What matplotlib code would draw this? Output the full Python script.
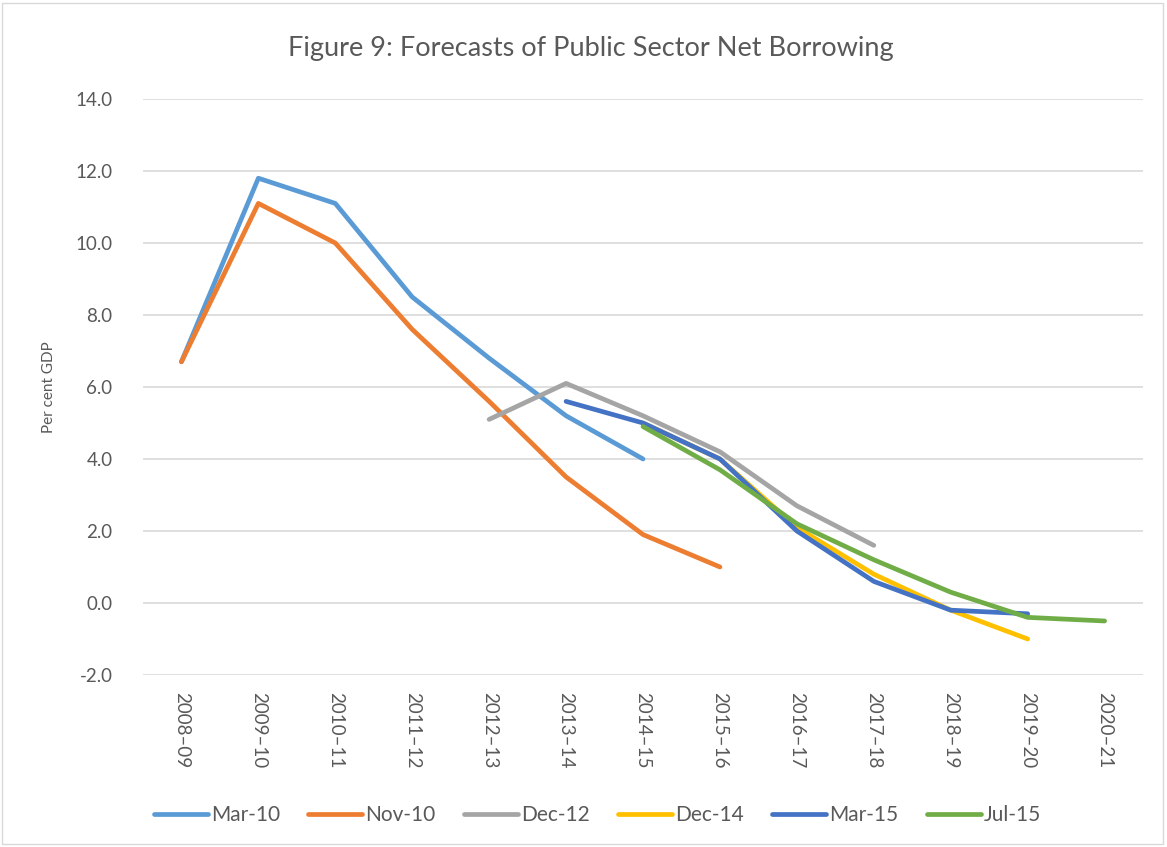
import matplotlib
matplotlib.use('Agg')
import matplotlib.pyplot as plt
import numpy as np

# data
years = ['2008–09', '2009–10', '2010–11', '2011–12', '2012–13', '2013–14', '2014–15',
         '2015–16', '2016–17', '2017–18', '2018–19', '2019–20', '2020–21']

mar10 = [6.7, 11.8, 11.1, 8.5, 6.8, 5.2, 4.0]
nov10 = [6.7, 11.1, 10.0, 7.6, 5.6, 3.5, 1.9, 1.0]
dec12 = [5.1, 6.1, 5.2, 4.2, 2.7, 1.6]
dec14 = [5.0, 4.0, 2.1, 0.8, -0.2, -1.0]
mar15 = [5.6, 5.0, 4.0, 2.0, 0.6, -0.2, -0.3]
jul15 = [4.9, 3.7, 2.2, 1.2, 0.3, -0.4, -0.5]

# (label, values, first year index, colour)
series = [
    ('Mar-10', mar10, 0, '#5B9BD5'),
    ('Nov-10', nov10, 0, '#ED7D31'),
    ('Dec-12', dec12, 4, '#A5A5A5'),
    ('Dec-14', dec14, 6, '#FFC000'),
    ('Mar-15', mar15, 5, '#4472C4'),
    ('Jul-15', jul15, 6, '#70AD47'),
]

TEXT = '#595959'
GRID = '#D9D9D9'
plt.rcParams['font.family'] = ['Lato', 'DejaVu Sans']

fig = plt.figure(figsize=(11.67, 8.47), dpi=100)
ax = fig.add_axes([0.1225, 0.2031, 0.857, 0.68])

for label, vals, start, col in series:
    xs = np.arange(start, start + len(vals))
    ax.plot(xs, vals, color=col, lw=3.4, label=label, solid_capstyle='round',
            solid_joinstyle='round')

ax.set_xlim(-0.5, len(years) - 0.5)
ax.set_ylim(-2, 14)
ax.set_yticks(np.arange(-2, 14.1, 2))
ax.set_yticklabels(['%.1f' % v for v in np.arange(-2, 14.1, 2)])
ax.set_xticks(range(len(years)))
ax.set_xticklabels(years, rotation=-90)
ax.tick_params(axis='both', length=0, colors=TEXT, labelsize=13.5)
ax.tick_params(axis='y', pad=22)
ax.tick_params(axis='x', pad=12)
ax.grid(axis='y', color=GRID, lw=1.2)
ax.set_axisbelow(True)
for s in ax.spines.values():
    s.set_visible(False)

ax.set_ylabel('Per cent GDP', color=TEXT, fontsize=11, labelpad=14)
fig.text(0.506, 0.943, 'Figure 9: Forecasts of Public Sector Net Borrowing',
         ha='center', va='center', fontsize=19.5, color=TEXT)

fig.legend(loc='center', bbox_to_anchor=(0.512, 0.038), ncol=6, frameon=False,
           fontsize=15, handlelength=2.6, columnspacing=1.35, handletextpad=0.15,
           labelcolor=TEXT)

fig.patches.append(plt.Rectangle((0.002, 0.003), 0.995, 0.994, transform=fig.transFigure,
                                 fill=False, edgecolor=GRID, lw=1))

fig.savefig('out.png', dpi=100, facecolor='white')
